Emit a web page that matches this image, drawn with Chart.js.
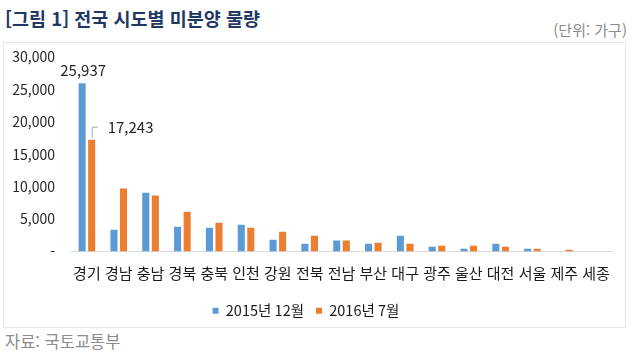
<!DOCTYPE html>
<html lang="ko">
<head>
<meta charset="utf-8">
<script src="https://cdn.jsdelivr.net/npm/chart.js@4"></script>
<style>
  html, body { margin:0; padding:0; background:#fff; }
  body { width:633px; height:358px; position:relative; overflow:hidden; font-family:"Noto Sans CJK KR","Noto Sans",sans-serif; }
  #title { position:absolute; left:5px; top:6px; font-size:18.5px; font-weight:bold; color:#1f3864; white-space:nowrap; line-height:24px; }
  #unit { position:absolute; right:6px; top:20px; font-size:15px; color:#8c8c8c; white-space:nowrap; line-height:20px; }
  #box { position:absolute; left:3px; top:42px; width:621px; height:284px; border:1.5px solid #e6e6e6; box-sizing:content-box; }
  #src { position:absolute; left:5px; top:330px; font-size:16.5px; color:#8c8c8c; white-space:nowrap; line-height:22px; }
  #wrap { position:absolute; left:0; top:0; width:633px; height:358px; }
</style>
</head>
<body>
<div id="title">[그림 1] 전국 시도별 미분양 물량</div>
<div id="unit">(단위: 가구)</div>
<div id="box"></div>
<div id="src">자료: 국토교통부</div>
<div id="wrap"><canvas id="c" width="633" height="358"></canvas></div>
<script>
const categories = ["경기","경남","충남","경북","충북","인천","강원","전북","전남","부산","대구","광주","울산","대전","서울","제주","세종"];
const series2015Dec = [25937, 3350, 9060, 3810, 3660, 4120, 1800, 1190, 1700, 1190, 2420, 730, 420, 1190, 420, 0, 0];
const series2016Jul = [17243, 9720, 8640, 6130, 4430, 3660, 3040, 2420, 1700, 1340, 1190, 880, 880, 730, 420, 270, 0];
const seriesNames = ["2015년 12월", "2016년 7월"];
const yTicks = [0, 5000, 10000, 15000, 20000, 25000, 30000];

const FONT = '"Noto Sans CJK KR","Noto Sans",sans-serif';

const labelPlugin = {
  id: 'valueLabels',
  afterDatasetsDraw(chart) {
    const ctx = chart.ctx;
    ctx.save();
    ctx.font = '15px ' + FONT;
    ctx.fillStyle = '#262626';
    ctx.textBaseline = 'middle';
    const b0 = chart.getDatasetMeta(0).data[0];
    ctx.textAlign = 'center';
    ctx.fillText(series2015Dec[0].toLocaleString('en-US'), b0.x + 1, b0.y - 13);
    const b1 = chart.getDatasetMeta(1).data[0];
    ctx.strokeStyle = '#a6a6a6';
    ctx.lineWidth = 1;
    ctx.beginPath();
    ctx.moveTo(b1.x + 0.5, b1.y - 2);
    ctx.lineTo(b1.x + 0.5, b1.y - 12.5);
    ctx.lineTo(b1.x + 6, b1.y - 12.5);
    ctx.stroke();
    ctx.textAlign = 'left';
    ctx.fillText(series2016Jul[0].toLocaleString('en-US'), b1.x + 16, b1.y - 12);
    ctx.restore();
  }
};

new Chart(document.getElementById('c'), {
  type: 'bar',
  data: {
    labels: categories,
    datasets: [
      { label: seriesNames[0], data: series2015Dec, backgroundColor: '#5b9bd5', categoryPercentage: 0.6, barPercentage: 0.74 },
      { label: seriesNames[1], data: series2016Jul, backgroundColor: '#ed7d31', categoryPercentage: 0.6, barPercentage: 0.74 }
    ]
  },
  options: {
    responsive: false,
    animation: false,
    events: [],
    layout: { padding: { left: 0, right: 21, top: 57, bottom: 30 } },
    plugins: {
      tooltip: { enabled: false },
      legend: {
        position: 'bottom',
        labels: {
          boxWidth: 6, boxHeight: 6, padding: 12,
          font: { family: FONT, size: 14.5 }, color: '#1a1a1a'
        }
      }
    },
    scales: {
      x: {
        grid: { display: false, drawTicks: false },
        border: { display: true, color: '#d9d9d9', width: 1 },
        ticks: { font: { family: FONT, size: 15 }, color: '#1a1a1a', maxRotation: 0, autoSkip: false, padding: 13 },
        afterFit(s) { s.height = 40; }
      },
      y: {
        min: 0, max: 30000,
        grid: { display: false, drawTicks: false },
        border: { display: false },
        afterBuildTicks(s) { s.ticks = yTicks.map(v => ({ value: v })); },
        ticks: {
          font: { family: FONT, size: 14 }, color: '#262626', padding: 16,
          callback: v => v === 0 ? '-' : Number(v).toLocaleString('en-US')
        },
        afterFit(s) { s.width = 71; }
      }
    }
  },
  plugins: [labelPlugin]
});
</script>
</body>
</html>
